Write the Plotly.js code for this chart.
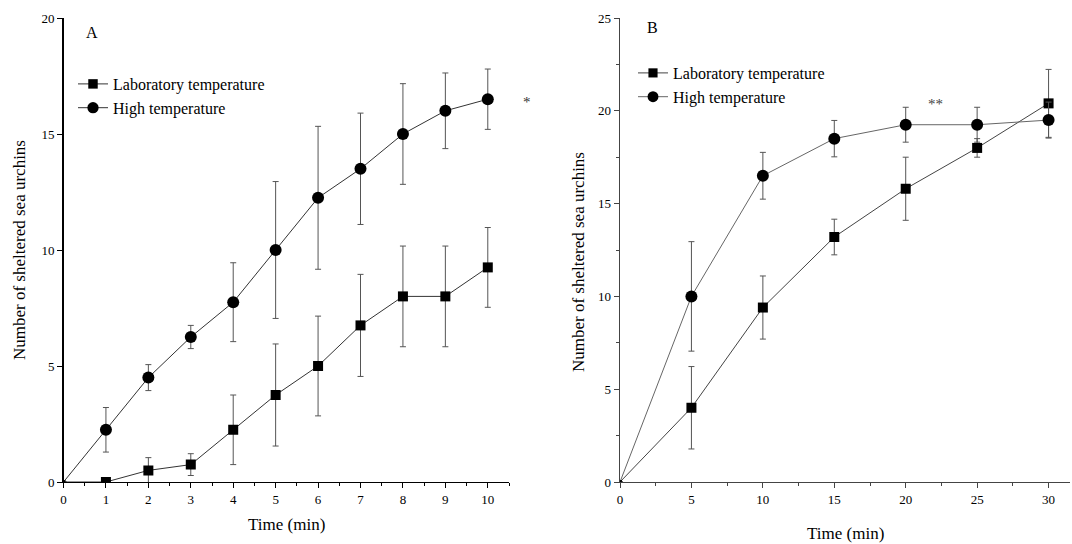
<!DOCTYPE html>
<html>
<head>
<meta charset="utf-8">
<script src="https://cdn.plot.ly/plotly-3.0.1.min.js"></script>
<style>html,body{margin:0;padding:0;background:#fff}#chart{width:1072px;height:544px}</style>
</head>
<body>
<div id="chart"></div>
<script>
// Panel A (0-10 min)
const timeA = [0, 1, 2, 3, 4, 5, 6, 7, 8, 9, 10];
const labA = [0, 0, 0.5, 0.75, 2.25, 3.75, 5, 6.75, 8, 8, 9.25];
const labAErr = [0, 0, 0.55, 0.47, 1.5, 2.2, 2.15, 2.2, 2.17, 2.17, 1.72];
const highA = [0, 2.25, 4.5, 6.25, 7.75, 10, 12.25, 13.5, 15, 16, 16.5];
const highAErr = [0, 0.96, 0.56, 0.5, 1.7, 2.95, 3.08, 2.4, 2.17, 1.63, 1.3];

// Panel B (0-30 min)
const timeB = [0, 5, 10, 15, 20, 25, 30];
const labB = [0, 4, 9.4, 13.2, 15.8, 18, 20.4];
const labBErr = [0, 2.22, 1.7, 0.96, 1.7, 0.5, 1.83];
const highB = [0, 10, 16.5, 18.5, 19.25, 19.25, 19.5];
const highBErr = [0, 2.95, 1.26, 0.98, 0.94, 0.94, 0.97];

const seriesNames = ['Laboratory temperature', 'High temperature'];
const panelLabels = ['A', 'B'];
const yTitle = 'Number of sheltered sea urchins';
const xTitle = 'Time (min)';

const FONT = 'Liberation Serif, Times New Roman, serif';

function trace(x, y, err, name, sym, xa, ya, lg, lineCol, errCol) {
  return {
    x: x, y: y, name: name, type: 'scatter', mode: 'lines+markers',
    xaxis: xa, yaxis: ya, legend: lg,
    line: {color: lineCol, width: 1},
    marker: {symbol: sym, color: '#000', opacity: 1,
      line: {color: '#000', width: 0},
      size: x.map(v => v === 0 ? 4 : (sym === 'square' ? 10 : 12))},
    error_y: {type: 'data', array: err, visible: true, color: errCol, thickness: 1, width: 3}
  };
}

const data = [
  trace(timeA, labA, labAErr, seriesNames[0], 'square', 'x', 'y', 'legend', '#333', '#555'),
  trace(timeA, highA, highAErr, seriesNames[1], 'circle', 'x', 'y', 'legend', '#333', '#555'),
  trace(timeB, labB, labBErr, seriesNames[0], 'square', 'x2', 'y2', 'legend2', '#444', '#555'),
  trace(timeB, highB, highBErr, seriesNames[1], 'circle', 'x2', 'y2', 'legend2', '#666', '#555')
];

const W = 1072, H = 544;
const yDom = [1 - 482 / H, 1 - 18 / H];

function axis(common) {
  return Object.assign({
    showline: true, linewidth: 1.3, mirror: false, showgrid: false, zeroline: false,
    ticks: 'outside', ticklen: 5, tickwidth: 1, fixedrange: true,
    tickfont: {family: FONT, size: 13, color: '#000'}
  }, common);
}

function note(x, y, text, size, extra) {
  return Object.assign({xref: 'paper', yref: 'paper', x: x / W, y: 1 - y / H, text: text,
    showarrow: false, xanchor: 'center', yanchor: 'middle',
    font: {family: FONT, size: size, color: '#000'}}, extra || {});
}

const layout = {
  width: W, height: H,
  margin: {l: 0, r: 0, t: 0, b: 0},
  paper_bgcolor: '#fff', plot_bgcolor: '#fff',
  font: {family: FONT, color: '#000'},
  showlegend: true,
  xaxis: axis({domain: [63.5 / W, 509 / W], range: [0, 10.5], dtick: 1, tick0: 0,
    linecolor: '#000', tickcolor: '#000', anchor: 'y',
    minor: {dtick: 0.5, ticklen: 3, tickcolor: '#000', ticks: 'outside'}}),
  yaxis: axis({domain: yDom, range: [0, 20], dtick: 5, tick0: 0,
    linecolor: '#000', tickcolor: '#000', anchor: 'x'}),
  xaxis2: axis({domain: [620 / W, 1070 / W], range: [0, 31.5], dtick: 5, tick0: 0,
    linecolor: '#444', tickcolor: '#444', anchor: 'y2',
    minor: {dtick: 2.5, ticklen: 3, tickcolor: '#444', ticks: 'outside'}}),
  yaxis2: axis({domain: yDom, range: [0, 25], dtick: 5, tick0: 0,
    linecolor: '#444', tickcolor: '#444', anchor: 'x2',
    minor: {dtick: 2.5, ticklen: 3, tickcolor: '#444', ticks: 'outside'}}),
  legend: {x: 73 / W, y: 1 - 67 / H, xanchor: 'left', yanchor: 'top',
    bgcolor: 'rgba(0,0,0,0)', font: {family: FONT, size: 16, color: '#000'},
    tracegroupgap: 0, itemwidth: 30},
  legend2: {x: 633 / W, y: 1 - 56 / H, xanchor: 'left', yanchor: 'top',
    bgcolor: 'rgba(0,0,0,0)', font: {family: FONT, size: 16, color: '#000'},
    tracegroupgap: 0, itemwidth: 30},
  annotations: [
    note(20, 250, yTitle, 17, {textangle: -90}),
    note(286, 524, xTitle, 17),
    note(578, 262, yTitle, 17, {textangle: -90}),
    note(845, 533, xTitle, 17),
    note(92, 32, panelLabels[0], 16),
    note(652, 27, panelLabels[1], 16),
    note(527, 102, '*', 15, {font: {family: FONT, size: 15, color: '#333'}}),
    note(935, 104, '**', 15, {font: {family: FONT, size: 15, color: '#444'}})
  ]
};

Plotly.newPlot('chart', data, layout, {displayModeBar: false, staticPlot: true});
</script>
</body>
</html>
